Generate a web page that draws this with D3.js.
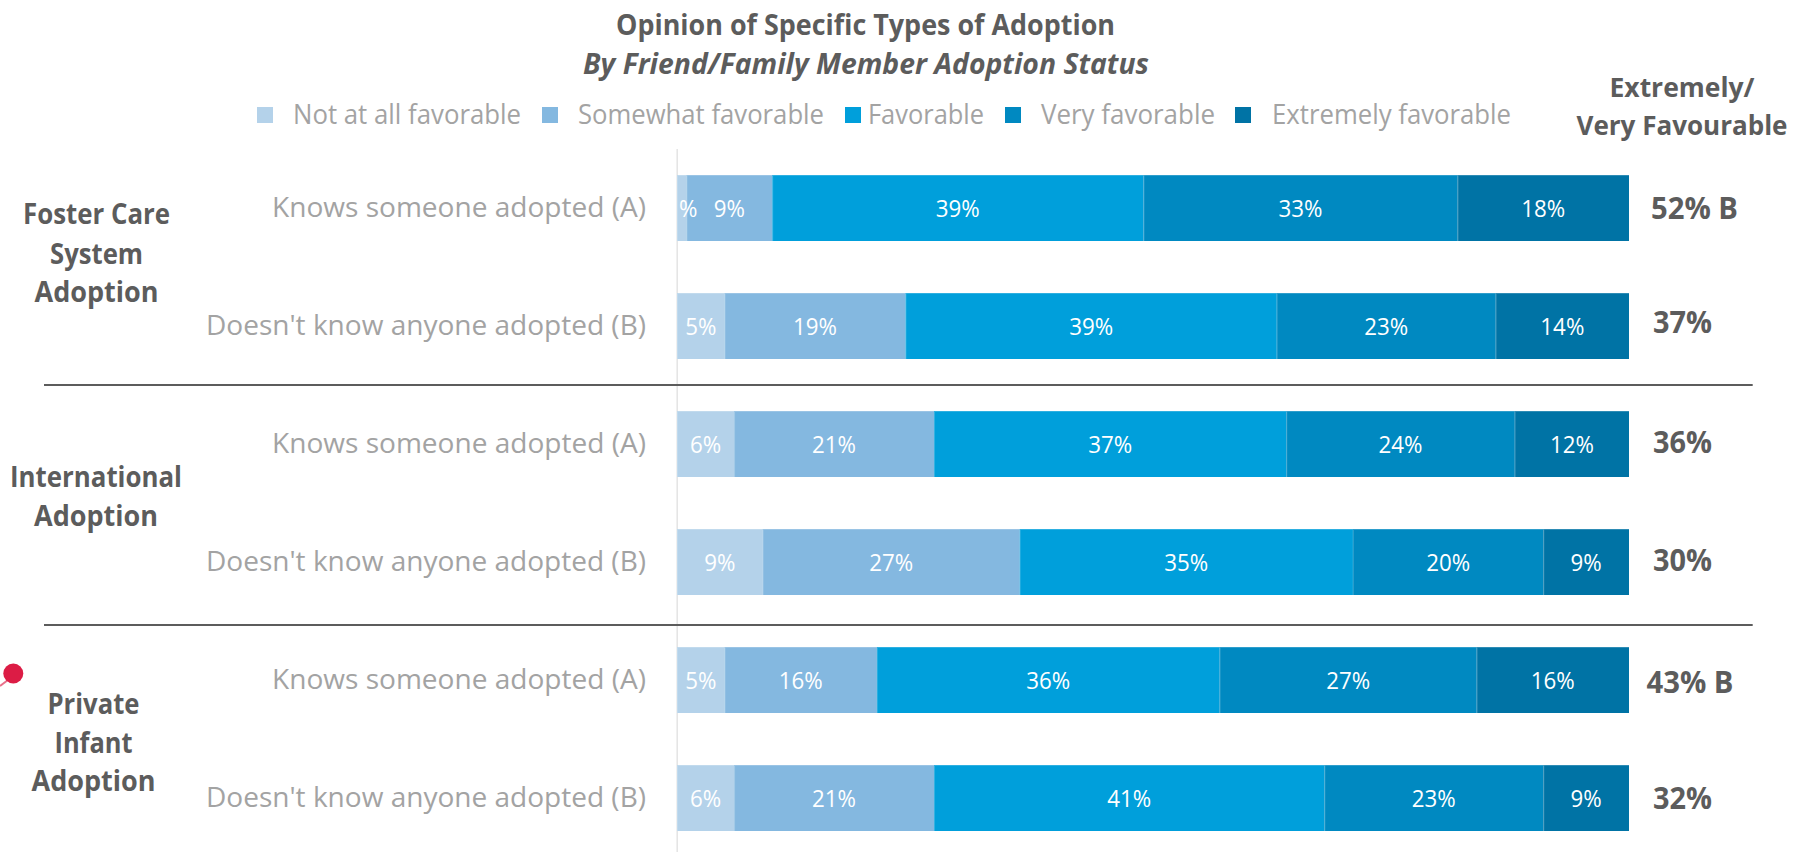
<!DOCTYPE html>
<html>
<head>
<meta charset="utf-8">
<script src="https://cdn.jsdelivr.net/npm/d3@7"></script>
<style>
html,body{margin:0;padding:0;background:#fff;overflow:hidden}
svg{display:block}
text{font-family:"Open Sans",sans-serif}
</style>
</head>
<body>
<div id="chart"></div>
<script>
// ---- data ----
const rowLabels = [
  "Knows someone adopted (A)", "Doesn't know anyone adopted (B)",
  "Knows someone adopted (A)", "Doesn't know anyone adopted (B)",
  "Knows someone adopted (A)", "Doesn't know anyone adopted (B)"
];
const seriesNames = ["Not at all favorable","Somewhat favorable","Favorable","Very favorable","Extremely favorable"];
const notAtAll   = [1, 5, 6, 9, 5, 6];
const somewhat   = [9, 19, 21, 27, 16, 21];
const favorable  = [39, 39, 37, 35, 36, 41];
const veryFav    = [33, 23, 24, 20, 27, 23];
const extremely  = [18, 14, 12, 9, 16, 9];
const topTwoLabels = ["52% B","37%","36%","30%","43% B","32%"];
const groupLabels = [["Foster Care","System","Adoption"],["International","Adoption"],["Private","Infant","Adoption"]];
const titleText = "Opinion of Specific Types of Adoption";
const subtitleText = "By Friend/Family Member Adoption Status";
const sideHeader = ["Extremely/","Very Favourable"];

// ---- styles and layout (kept apart from the data) ----
const colors = ["#b4d2ea","#84b8e0","#009fdb","#0089c1","#0073a5"];
const GREY_DARK = "#5c5c5c", GREY_LIGHT = "#a3a3a3";
const W = 1793, H = 852;
const legendLayout = [
  {sx:257,tx:293,tw:228},{sx:542,tx:578,tw:246},{sx:845,tx:868,tw:116},
  {sx:1005,tx:1041,tw:174},{sx:1235,tx:1272,tw:239}
];
const topTwoLayout = [
  {x:1651,w:87,y:218.5},{x:1653,w:59,y:332.5},{x:1653,w:59,y:453},
  {x:1653,w:59,y:571},{x:1646.5,w:87,y:692.5},{x:1653,w:59,y:809}
];
const groupLayout = [
  {cx:96.5,w:[147,93,124],y:[224,264,302]},
  {cx:96,w:[172,124],y:[487,526]},
  {cx:93.5,w:[92,78,124],y:[713.5,752.5,790.5]}
];

const svg = d3.select("#chart").append("svg").attr("width",W).attr("height",H);

const x = d3.scaleLinear().domain([0,100]).range([677,1629]);
const y = d3.scaleBand().domain(d3.range(rowLabels.length)).range([175,831]).paddingInner(52/118).paddingOuter(0);

function fitted(sel,x0,width,base,size,fill,weight,style){
  return sel.append("text").attr("x",x0).attr("y",base)
    .attr("font-size",size).attr("fill",fill)
    .attr("font-weight",weight||400).attr("font-style",style||"normal")
    .attr("textLength",width).attr("lengthAdjust","spacingAndGlyphs");
}

// title
fitted(svg,616,499,35,28,GREY_DARK,700).text(titleText);
fitted(svg,583,566,74,28,GREY_DARK,700,"italic").text(subtitleText);

// legend
seriesNames.forEach((name,i)=>{
  const L = legendLayout[i];
  svg.append("rect").attr("x",L.sx).attr("y",107).attr("width",16).attr("height",16).attr("fill",colors[i]);
  fitted(svg,L.tx,L.tw,123.5,27,GREY_LIGHT).text(name);
});

// side header
fitted(svg,1609.5,145,97,26,GREY_DARK,700).text(sideHeader[0]);
fitted(svg,1576.5,211,135,26,GREY_DARK,700).text(sideHeader[1]);

// baseline rule at zero
svg.append("line").attr("x1",677.2).attr("x2",677.2).attr("y1",149).attr("y2",H)
  .attr("stroke","#e4e4e4").attr("stroke-width",1.5);

// separators
[385,625].forEach(v=>svg.append("line").attr("x1",44).attr("x2",1752.7).attr("y1",v).attr("y2",v)
  .attr("stroke",GREY_DARK).attr("stroke-width",2));

// stacked bars
const table = rowLabels.map((_,i)=>({row:i,s0:notAtAll[i],s1:somewhat[i],s2:favorable[i],s3:veryFav[i],s4:extremely[i]}));
const stacked = d3.stack().keys(["s0","s1","s2","s3","s4"])(table);

svg.append("clipPath").attr("id","plotClip").append("rect")
  .attr("x",x(0)+1).attr("y",0).attr("width",W-x(0)).attr("height",H);

const layers = svg.append("g").selectAll("g").data(stacked).join("g").attr("fill",(d,i)=>colors[i]);
layers.selectAll("rect").data(d=>d).join("rect")
  .attr("x",d=>x(d[0])).attr("y",d=>y(d.data.row))
  .attr("width",d=>x(d[1])-x(d[0])).attr("height",y.bandwidth());
// faint lighter top and left edge that each segment shows
layers.selectAll("path").data(d=>d).join("path")
  .attr("d",d=>`M${x(d[0])+0.5},${y(d.data.row)+y.bandwidth()}V${y(d.data.row)+0.5}H${x(d[1])}`)
  .attr("fill","none").attr("stroke","#fff").attr("stroke-opacity",0.18);

// value labels
const labelGroup = svg.append("g").attr("clip-path","url(#plotClip)");
labelGroup.selectAll("g").data(stacked).join("g").selectAll("text").data(d=>d).join("text")
  .attr("x",d=>(x(d[0])+x(d[1]))/2)
  .attr("y",d=>y(d.data.row)+41.7)
  .attr("text-anchor","middle").attr("fill","#fff").attr("font-size",24)
  .text(d=>(d[1]-d[0])+"%")
  .each(function(){
    d3.select(this).attr("textLength",this.getComputedTextLength()*0.93).attr("lengthAdjust","spacingAndGlyphs");
  });

// row labels through an axis
const yAxis = d3.axisLeft(y).tickSize(0).tickPadding(31).tickFormat(i=>rowLabels[i]);
const axisG = svg.append("g").attr("transform",`translate(${x(0)},0)`).call(yAxis);
axisG.select(".domain").remove();
axisG.selectAll("text")
  .attr("dy",null).attr("y",8.7)
  .style("font-family",'"Open Sans",sans-serif').style("font-size","27px").attr("fill",GREY_LIGHT)
  .attr("textLength",i=>i%2===0?374:440).attr("lengthAdjust","spacingAndGlyphs");

// group labels
groupLabels.forEach((lines,g)=>{
  const L = groupLayout[g];
  lines.forEach((t,i)=>fitted(svg,L.cx-L.w[i]/2,L.w[i],L.y[i],28,GREY_DARK,700).text(t));
});

// top-two summary column
topTwoLabels.forEach((t,i)=>{
  const L = topTwoLayout[i];
  fitted(svg,L.x,L.w,L.y,31,GREY_DARK,700).text(t);
});

// stray red pin at the left edge
svg.append("line").attr("x1",0).attr("y1",686).attr("x2",8).attr("y2",680).attr("stroke","#e8708a").attr("stroke-width",2);
svg.append("circle").attr("cx",13.3).attr("cy",673.5).attr("r",10).attr("fill","#dc1c45");
</script>
</body>
</html>
